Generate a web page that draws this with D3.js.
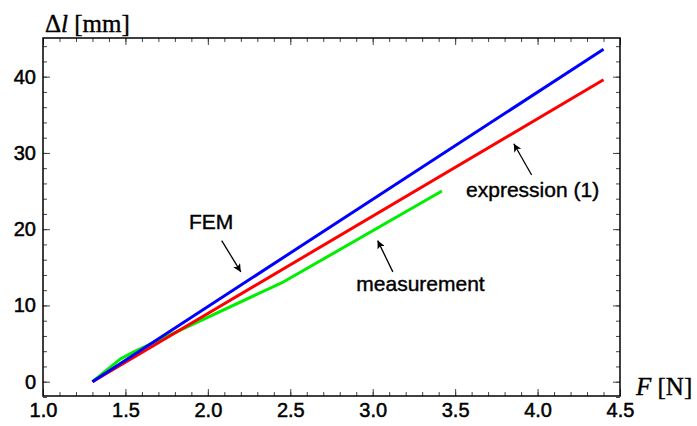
<!DOCTYPE html>
<html>
<head>
<meta charset="utf-8">
<script src="https://cdn.jsdelivr.net/npm/d3@7"></script>
<style>
  body { margin: 0; background: #fff; }
  .tick text { font-family: 'Liberation Sans', Arial, sans-serif; font-size: 20px; fill: #000; stroke: #000; stroke-width: 0.5px; }
  .note { font-family: 'Liberation Sans', Arial, sans-serif; font-size: 21px; fill: #000; stroke: #000; stroke-width: 0.4px; }
  .axlabel { font-family: 'Liberation Serif', 'Times New Roman', serif; font-size: 25px; fill: #000; stroke: #000; stroke-width: 0.4px; }
</style>
</head>
<body>
<script>
const WIDTH = 697;
const HEIGHT = 426;

// data
const femF = [1.3, 4.4];
const femDl = [0, 43.6];
const exprF = [1.3, 4.4];
const exprDl = [0, 39.6];
const measF = [1.3, 1.47, 1.56, 2.46, 3.42];
const measDl = [0, 3.0, 4.0, 13.1, 25.0];

const xTicks = [1.0, 1.5, 2.0, 2.5, 3.0, 3.5, 4.0, 4.5];
const yTicks = [0, 10, 20, 30, 40];

// annotations: [label, text x, text y, arrow from x, from y, to x, to y] in data units
const notes = [
  ['FEM', 2.02, 20.0, 2.084, 18.5, 2.2, 14.4],
  ['measurement', 3.29, 11.9, 3.122, 14.4, 3.03, 18.5],
  ['expression (1)', 3.97, 24.2, 3.964, 27.1, 3.856, 31.2]
];

const frame = { left: 43, right: 620, top: 38, bottom: 396 };

const x = d3.scaleLinear().domain([1.0, 4.5]).range([frame.left, frame.right]);
const y = d3.scaleLinear().domain([-1.875, 45.07]).range([frame.bottom, frame.top]);

const svg = d3.select('body')
  .append('svg')
  .attr('width', WIDTH)
  .attr('height', HEIGHT);

const defs = svg.append('defs');
defs.append('marker')
  .attr('id', 'arrow')
  .attr('viewBox', '0 0 10 10')
  .attr('refX', 10)
  .attr('refY', 5)
  .attr('markerUnits', 'userSpaceOnUse')
  .attr('markerWidth', 10)
  .attr('markerHeight', 8)
  .attr('orient', 'auto')
  .append('path')
  .attr('d', 'M0,0 L10,5 L0,10 L2.5,5 Z')
  .attr('fill', '#000');

const minorX = d3.range(10, 46).map(d => d / 10);
const minorY = d3.range(-1, 23).map(d => d * 2);

function tickAxis(axis, pos, size, labels) {
  const g = svg.append('g')
    .attr('transform', pos)
    .call(axis.tickSize(size).tickPadding(7));
  g.select('.domain').remove();
  g.selectAll('.tick line').attr('stroke', '#444').attr('stroke-width', 1);
  if (!labels) g.selectAll('.tick text').remove();
  return g;
}

// bottom
tickAxis(d3.axisBottom(x).tickValues(minorX), 'translate(0,' + frame.bottom + ')', -4, false);
tickAxis(d3.axisBottom(x).tickValues(xTicks).tickFormat(d3.format('.1f')), 'translate(0,' + frame.bottom + ')', -7, true);
// top
tickAxis(d3.axisTop(x).tickValues(minorX), 'translate(0,' + frame.top + ')', -4, false);
tickAxis(d3.axisTop(x).tickValues(xTicks), 'translate(0,' + frame.top + ')', -7, false);
// left
tickAxis(d3.axisLeft(y).tickValues(minorY), 'translate(' + frame.left + ',0)', -4, false);
tickAxis(d3.axisLeft(y).tickValues(yTicks).tickFormat(d3.format('d')), 'translate(' + frame.left + ',0)', -7, true);
// right
tickAxis(d3.axisRight(y).tickValues(minorY), 'translate(' + frame.right + ',0)', -4, false);
tickAxis(d3.axisRight(y).tickValues(yTicks), 'translate(' + frame.right + ',0)', -7, false);

svg.append('rect')
  .attr('x', frame.left)
  .attr('y', frame.top)
  .attr('width', frame.right - frame.left)
  .attr('height', frame.bottom - frame.top)
  .attr('fill', 'none')
  .attr('stroke', '#000')
  .attr('stroke-width', 1.5);

const line = d3.line().x(d => x(d[0])).y(d => y(d[1]));

const series = [
  { f: measF, v: measDl, color: '#00ee00' },
  { f: exprF, v: exprDl, color: '#ff0000' },
  { f: femF, v: femDl, color: '#0000ff' }
];

svg.selectAll('path.series')
  .data(series)
  .enter()
  .append('path')
  .attr('class', 'series')
  .attr('d', s => line(d3.zip(s.f, s.v)))
  .attr('fill', 'none')
  .attr('stroke', s => s.color)
  .attr('stroke-width', 3)
  .attr('stroke-linejoin', 'round');

// annotations
svg.selectAll('text.note')
  .data(notes)
  .enter()
  .append('text')
  .attr('class', 'note')
  .attr('x', d => x(d[1]))
  .attr('y', d => y(d[2]))
  .attr('text-anchor', 'middle')
  .text(d => d[0]);

svg.selectAll('line.arrow')
  .data(notes)
  .enter()
  .append('line')
  .attr('class', 'arrow')
  .attr('x1', d => x(d[3]))
  .attr('y1', d => y(d[4]))
  .attr('x2', d => x(d[5]))
  .attr('y2', d => y(d[6]))
  .attr('stroke', '#000')
  .attr('stroke-width', 1.3)
  .attr('marker-end', 'url(#arrow)');

// axis labels
const yl = svg.append('text')
  .attr('class', 'axlabel')
  .attr('x', 45)
  .attr('y', 32);
yl.append('tspan').text('\u0394');
yl.append('tspan').attr('font-style', 'italic').text('l');
yl.append('tspan').text(' [mm]');

const xl = svg.append('text')
  .attr('class', 'axlabel')
  .attr('x', 636)
  .attr('y', 395);
xl.append('tspan').attr('font-style', 'italic').text('F');
xl.append('tspan').text(' [N]');
</script>
</body>
</html>
